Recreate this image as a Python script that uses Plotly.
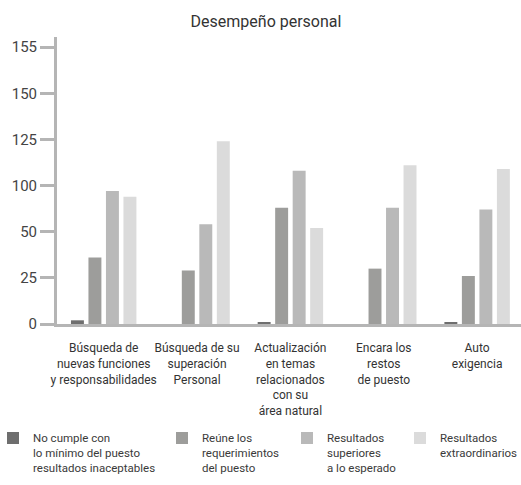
import plotly.graph_objects as go

title = "Desempeño personal"
categories = [
    "Búsqueda de<br>nuevas funciones<br>y responsabilidades",
    "Búsqueda de su<br>superación<br>Personal",
    "Actualización<br>en temas<br>relacionados<br>con su<br>área natural",
    "Encara los<br>restos<br>de puesto",
    "Auto<br>exigencia",
]
series_names = [
    "No cumple con<br>lo mínimo del puesto<br>resultados inaceptables",
    "Reúne los<br>requerimientos<br>del puesto",
    "Resultados<br>superiores<br>a lo esperado",
    "Resultados<br>extraordinarios",
]
s1 = [2, 0, 1, 0, 1]
s2 = [36, 29, 63, 30, 26]
s3 = [72, 54, 83, 63, 62]
s4 = [69, 99, 52, 86, 84]
tick_vals = [0, 25, 50, 75, 100, 125, 150]
tick_text = ["0", "25", "50", "100", "125", "150", "155"]

colors = ["#6e6e6e", "#9d9d9b", "#b9b9b9", "#dbdbdb"]
series = [s1, s2, s3, s4]
legend_ids = ["legend", "legend2", "legend3", "legend4"]
legend_text_x = [30, 199, 324, 437]

FONT = "Roboto, 'Open Sans', sans-serif"

fig = go.Figure()
for name, vals, col, lg in zip(series_names, series, colors, legend_ids):
    fig.add_trace(go.Bar(
        x=categories, y=vals, name=name, marker_color=col,
        marker_line_width=0, legend=lg, hoverinfo="skip",
    ))

layout_legends = {}
for lg, tx in zip(legend_ids, legend_text_x):
    lx = tx - 37
    indent = 0
    if lx < 0:
        indent = lx
        lx = 0
    layout_legends[lg] = dict(
        x=lx / 521, y=(485 - 424) / 485,
        xref="container", yref="container",
        xanchor="left", yanchor="top", indentation=indent,
        valign="top", bgcolor="rgba(0,0,0,0)",
        font=dict(family=FONT, size=11.5, color="#3a3a3a"),
        itemclick=False, itemdoubleclick=False,
    )

fig.update_layout(
    width=521, height=485,
    margin=dict(l=57, r=0, t=37, b=161, autoexpand=False),
    paper_bgcolor="white", plot_bgcolor="white",
    barmode="group", bargap=0.25, bargroupgap=0.26,
    showlegend=True,
    title=dict(text=title, x=266 / 521, xanchor="center", y=1 - 21 / 485, yanchor="middle",
               font=dict(family=FONT, size=16, color="#333333")),
    font=dict(family=FONT, color="#333333"),
    xaxis=dict(
        type="category", categoryorder="array", categoryarray=categories,
        range=[-0.5, 4.47], showline=True, linecolor="#b5b5b5", linewidth=3,
        ticks="", showgrid=False, zeroline=False, automargin=False, tickangle=0,
        ticklabelstandoff=11,
        tickfont=dict(family=FONT, size=12, color="#333333"),
    ),
    yaxis=dict(
        range=[0, 155.5], showline=True, linecolor="#b5b5b5", linewidth=3,
        ticks="outside", ticklen=14, tickwidth=3, tickcolor="#b5b5b5", automargin=False,
        tickvals=tick_vals, ticktext=tick_text, showgrid=False, zeroline=False,
        tickfont=dict(family=FONT, size=15, color="#444444"),
    ),
    **layout_legends,
)

fig.write_html("out.html", config={"displayModeBar": False},
               post_script="document.body.style.margin='0px';")
